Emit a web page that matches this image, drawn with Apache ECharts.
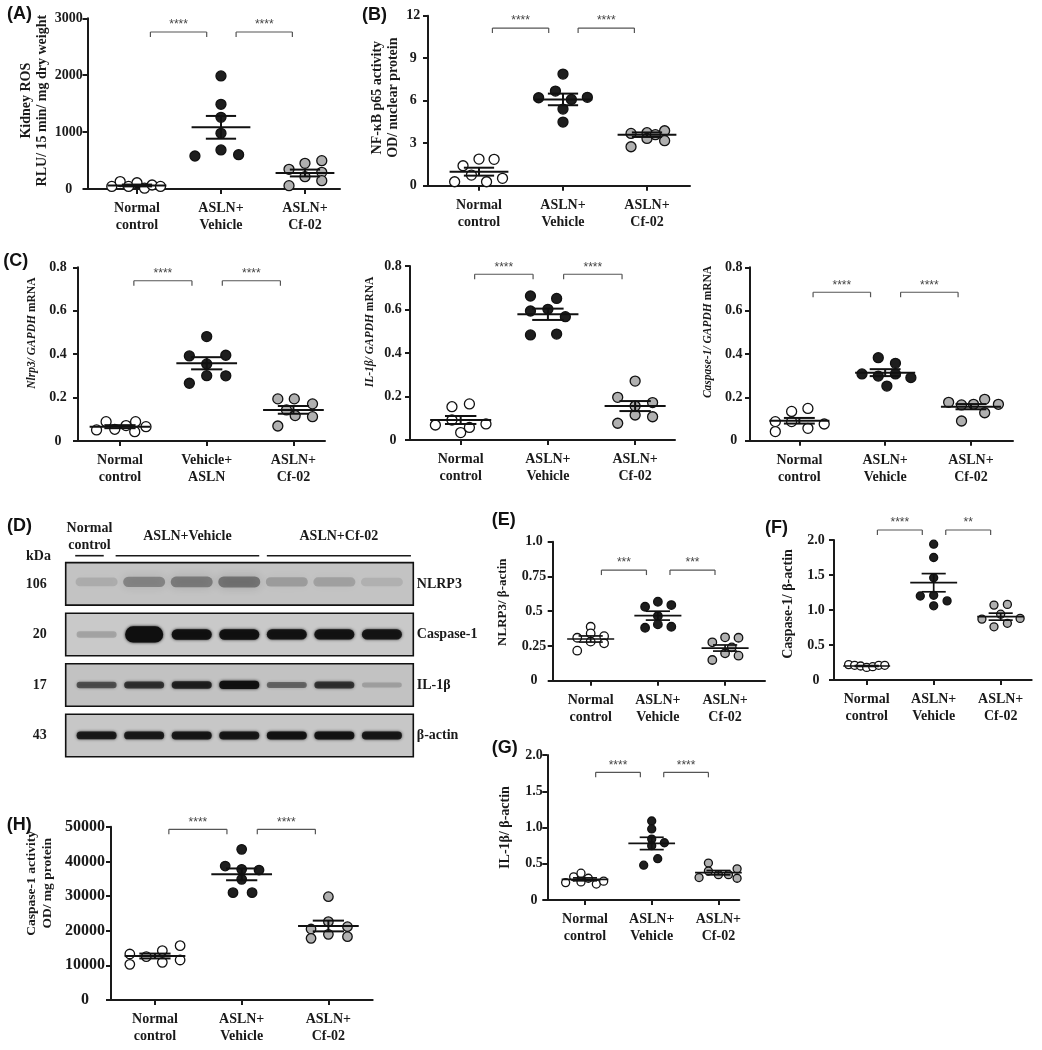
<!DOCTYPE html>
<html><head><meta charset="utf-8">
<script src="https://cdn.jsdelivr.net/npm/echarts@6/dist/echarts.min.js"></script>
<style>html,body{margin:0;padding:0;background:#fff}#c{width:1042px;height:1050px}</style>
</head><body><div id="c"></div>
<script>
// ---------------- categories / tick labels ----------------
const groupLabels   = ['Normal\ncontrol', 'ASLN+\nVehicle', 'ASLN+\nCf-02'];
const groupLabelsC1 = ['Normal\ncontrol', 'Vehicle+\nASLN', 'ASLN+\nCf-02'];

// ---------------- (A) Kidney ROS ----------------
const rosNormal  = [45, 130, 45, 110, 15, 70, 45];
const rosVehicle = [1987, 1489, 1260, 979, 580, 686, 604];
const rosCf02    = [59, 346, 451, 217, 498, 293, 147];
const rosJitter  = [[-0.3,-0.2,-0.1,0,0.09,0.18,0.28],[0,0,0,0,-0.31,0,0.21],[-0.19,-0.19,0,0,0.2,0.2,0.2]];
const rosMean = [62, 1084, 281];
const rosSem  = [16, 200, 60];

// ---------------- (B) NF-kB p65 ----------------
const nfkbNormal  = [0.28, 1.41, 0.75, 1.88, 0.28, 1.86, 0.52];
const nfkbVehicle = [7.88, 6.21, 6.68, 6.09, 6.24, 5.41, 4.49];
const nfkbCf02    = [3.69, 3.74, 2.75, 3.34, 3.88, 3.18, 3.6];
const nfkbJitter  = [[-0.29,-0.19,-0.09,0,0.09,0.18,0.28],[0,-0.29,-0.09,0.1,0.29,0,0],[-0.19,0,-0.19,0,0.21,0.21,0.1]];
const nfkbMean = [0.99, 6.09, 3.6];
const nfkbSem  = [0.28, 0.41, 0.16];

// ---------------- (C) Nlrp3 mRNA ----------------
const nlrp3mNormal  = [0.051, 0.089, 0.054, 0.071, 0.043, 0.089, 0.066];
const nlrp3mVehicle = [0.481, 0.392, 0.395, 0.355, 0.266, 0.301, 0.3];
const nlrp3mCf02    = [0.194, 0.194, 0.171, 0.069, 0.117, 0.112, 0.143];
const nlrp3mJitter  = [[-0.27,-0.16,-0.06,0.07,0.17,0.18,0.3],[0,-0.2,0.22,0,-0.2,0,0.22],[-0.18,0.01,0.22,-0.18,0.02,0.22,-0.08]];
const nlrp3mMean = [0.066, 0.358, 0.143];
const nlrp3mSem  = [0.007, 0.028, 0.018];

// ---------------- (C) IL-1b mRNA ----------------
const il1bmNormal  = [0.069, 0.153, 0.092, 0.034, 0.166, 0.058, 0.074];
const il1bmVehicle = [0.662, 0.651, 0.593, 0.601, 0.567, 0.483, 0.487];
const il1bmCf02    = [0.271, 0.196, 0.077, 0.115, 0.172, 0.107, 0.156];
const il1bmJitter  = [[-0.29,-0.1,-0.1,0,0.1,0.1,0.29],[-0.2,0.1,-0.2,0,0.2,-0.2,0.1],[0,-0.2,-0.2,0,0.2,0.2,0]];
const il1bmMean = [0.092, 0.578, 0.156];
const il1bmSem  = [0.018, 0.026, 0.023];

// ---------------- (C) Caspase-1 mRNA ----------------
const casp1mNormal  = [0.088, 0.042, 0.135, 0.088, 0.149, 0.057, 0.077];
const casp1mVehicle = [0.383, 0.357, 0.308, 0.298, 0.308, 0.291, 0.252];
const casp1mCf02    = [0.177, 0.165, 0.168, 0.191, 0.168, 0.091, 0.129];
const casp1mJitter  = [[-0.28,-0.28,-0.09,-0.09,0.1,0.1,0.29],[-0.08,0.12,-0.27,-0.08,0.12,0.3,0.02],[-0.26,-0.11,0.03,0.16,0.32,-0.11,0.16]];
const casp1mMean = [0.092, 0.314, 0.157];
const casp1mSem  = [0.013, 0.016, 0.012];

// ---------------- (E) NLRP3 / b-actin ----------------
const nlrp3pNormal  = [0.388, 0.309, 0.34, 0.32, 0.216, 0.281, 0.269];
const nlrp3pVehicle = [0.532, 0.568, 0.544, 0.465, 0.381, 0.405, 0.388];
const nlrp3pCf02    = [0.276, 0.312, 0.149, 0.197, 0.309, 0.18, 0.24];
const nlrp3pJitter  = [[0,-0.2,0,0.2,-0.2,0,0.2],[-0.19,0,0.2,0,-0.19,0,0.2],[-0.19,0,-0.19,0,0.2,0.2,0.1]];
const nlrp3pMean = [0.3, 0.468, 0.235];
const nlrp3pSem  = [0.022, 0.032, 0.022];

// ---------------- (F) Caspase-1 / b-actin ----------------
const casp1pNormal  = [0.22, 0.21, 0.2, 0.18, 0.19, 0.21, 0.21];
const casp1pVehicle = [1.94, 1.75, 1.46, 1.2, 1.21, 1.13, 1.06];
const casp1pCf02    = [1.07, 1.08, 0.87, 0.94, 0.88, 0.76, 0.81];
const casp1pJitter  = [[-0.27,-0.18,-0.09,0,0.09,0.18,0.27],[0,0,0,-0.2,0,0.2,0],[-0.1,0.1,-0.28,0,0.29,-0.1,0.1]];
const casp1pMean = [0.2, 1.39, 0.905];
const casp1pSem  = [0.006, 0.13, 0.05];

// ---------------- (G) IL-1b / b-actin ----------------
const il1bpNormal  = [0.24, 0.32, 0.37, 0.25, 0.3, 0.22, 0.26];
const il1bpVehicle = [1.09, 0.98, 0.84, 0.75, 0.79, 0.48, 0.57];
const il1bpCf02    = [0.31, 0.51, 0.4, 0.35, 0.35, 0.43, 0.3];
const il1bpJitter  = [[-0.29,-0.17,-0.06,-0.06,0.05,0.17,0.28],[0,0,0,0,0.19,-0.12,0.09],[-0.29,-0.15,-0.15,0,0.15,0.28,0.28]];
const il1bpMean = [0.285, 0.78, 0.377];
const il1bpSem  = [0.02, 0.085, 0.03];

// ---------------- (H) Caspase-1 activity ----------------
const caspActNormal  = [13270, 10290, 12500, 14230, 10870, 15670, 11540];
const caspActVehicle = [43460, 38650, 37690, 37500, 34810, 30960, 30960];
const caspActCf02    = [29800, 22600, 20480, 21150, 17790, 18940, 18270];
const caspActJitter  = [[-0.29,-0.29,-0.1,0.085,0.085,0.29,0.29],[0,-0.19,0,0.2,0,-0.1,0.12],[0,0,-0.2,0.22,-0.2,0,0.22]];
const caspActMean = [12690, 36250, 21350];
const caspActSem  = [700, 1700, 1550];

// ---------------- (D) western blot ----------------
const blotTargets = ['NLRP3', 'Caspase-1', 'IL-1β', 'β-actin'];
const kdaLabels   = ['106', '20', '17', '43'];
const laneGroups  = ['Normal\ncontrol', 'ASLN+Vehicle', 'ASLN+Cf-02'];
const nlrp3Band = [0.12, 0.32, 0.36, 0.4, 0.2, 0.18, 0.1];
const casp1Band = [0.18, 1.0, 0.95, 0.95, 0.92, 0.92, 0.9];
const il1bBand  = [0.55, 0.7, 0.8, 0.95, 0.45, 0.7, 0.18];
const actinBand = [0.85, 0.85, 0.88, 0.88, 0.92, 0.92, 0.88];

// ================= rendering =================
const INK = '#1a1a1a';
const SERIF = '"Liberation Serif", "DejaVu Serif", serif';
const SANS = '"Liberation Sans", Arial, sans-serif';
const FILLS = ['#ffffff', '#1e1e1e', '#b0b0b0'];

const fmtInt = v => String(Math.round(v));
const fmtDec = v => v === 0 ? '0' : String(+v.toFixed(2));
const fmtOne = v => v === 0 ? '0' : (Math.abs(v - Math.round(v)) < 1e-9 ? v.toFixed(1) : String(+v.toFixed(2)));

const panels = [
  {letter:'(A)', lp:[7,16], g:[87.5,18.3,252.5,170.7], x:[-0.589,2.417], ymax:3000, yint:1000, fmt:fmtInt, lm:18.8, tf:14,
   name:['Kidney ROS','RLU/ 15 min/ mg dry weight'], shift:3, ng:36, ns:14, ss:10, br:2759, stars:['****','****'], cats:groupLabels,
   vals:[rosNormal,rosVehicle,rosCf02], jit:rosJitter, mean:rosMean, sem:rosSem},
  {letter:'(B)', lp:[362,16.7], g:[428,15.7,262,170], x:[-0.607,2.512], ymax:12, yint:3, fmt:fmtInt, lm:14.7, tf:14,
   name:['NF-κB p65 activity','OD/ nuclear protein'], shift:3, ng:27, ns:14, ss:10, br:11.13, stars:['****','****'], cats:groupLabels,
   vals:[nfkbNormal,nfkbVehicle,nfkbCf02], jit:nfkbJitter, mean:nfkbMean, sem:nfkbSem},
  {letter:'(C)', lp:[3.3,263.3], g:[78,267.3,247,173.7], x:[-0.484,2.364], ymax:0.8, yint:0.2, fmt:fmtDec, lm:20, tf:14,
   name:['{i|Nlrp3/ GAPDH} mRNA'], shift:21, ng:38, ns:11.5, ss:10, br:0.738, stars:['****','****'], cats:groupLabelsC1,
   vals:[nlrp3mNormal,nlrp3mVehicle,nlrp3mCf02], jit:nlrp3mJitter, mean:nlrp3mMean, sem:nlrp3mSem},
  {letter:'', g:[410,266,265,174], x:[-0.581,2.457], ymax:0.8, yint:0.2, fmt:fmtDec, lm:17, tf:14,
   name:['{i|IL-1β/ GAPDH} mRNA'], shift:21, ng:32, ns:11.5, ss:10, br:0.762, stars:['****','****'], cats:groupLabels,
   vals:[il1bmNormal,il1bmVehicle,il1bmCf02], jit:il1bmJitter, mean:il1bmMean, sem:il1bmSem},
  {letter:'', g:[750,267.3,263,173.4], x:[-0.575,2.49], ymax:0.8, yint:0.2, fmt:fmtDec, lm:16.3, tf:14,
   name:['{i|Caspase-1/ GAPDH} mRNA'], shift:22, ng:34, ns:11.5, ss:10, br:0.685, stars:['****','****'], cats:groupLabels,
   vals:[casp1mNormal,casp1mVehicle,casp1mCf02], jit:casp1mJitter, mean:casp1mMean, sem:casp1mSem},
  {letter:'(E)', lp:[491.7,521.7], g:[552.7,541.7,212.3,139], x:[-0.565,2.594], ymax:1, yint:0.25, fmt:fmtOne, lm:18.7, tf:14,
   name:['NLRP3/ β-actin'], shift:9, ng:41.7, ns:13, ss:8.5, br:0.796, stars:['***','***'], cats:groupLabels,
   vals:[nlrp3pNormal,nlrp3pVehicle,nlrp3pCf02], jit:nlrp3pJitter, mean:nlrp3pMean, sem:nlrp3pSem},
  {letter:'(F)', lp:[765,530], g:[834,540,197.7,140], x:[-0.488,2.463], ymax:2, yint:0.5, fmt:fmtOne, lm:18, tf:14,
   name:['Caspase-1/ β-actin'], shift:6, ng:38, ns:14, ss:8, br:2.143, stars:['****','**'], cats:groupLabels,
   vals:[casp1pNormal,casp1pVehicle,casp1pCf02], jit:casp1pJitter, mean:casp1pMean, sem:casp1pSem},
  {letter:'(G)', lp:[491.7,750], g:[547.3,755,192,145], x:[-0.565,2.313], ymax:2, yint:0.5, fmt:fmtOne, lm:13.3, tf:14,
   name:['IL-1β/ β-actin'], shift:0, ng:34, ns:14, ss:8, br:1.761, stars:['****','****'], cats:groupLabels,
   vals:[il1bpNormal,il1bpVehicle,il1bpCf02], jit:il1bpJitter, mean:il1bpMean, sem:il1bpSem},
  {letter:'(H)', lp:[6.7,826.7], g:[111,826.7,261.7,173.3], x:[-0.507,2.511], ymax:50000, yint:10000, fmt:fmtInt, lm:26, tf:16,
   name:['Caspase-1 activity','OD/ mg protein'], shift:30, ng:55, ns:13.5, ss:9.5, br:49250, stars:['****','****'], cats:groupLabels,
   vals:[caspActNormal,caspActVehicle,caspActCf02], jit:caspActJitter, mean:caspActMean, sem:caspActSem}
];

const option = {animation:false, backgroundColor:'#fff', grid:[], xAxis:[], yAxis:[], series:[], graphic:[]};

const labelFont = {fontFamily:SERIF, fontWeight:'bold', color:INK};

panels.forEach((p, k) => {
  option.grid.push({left:p.g[0], top:p.g[1], width:p.g[2], height:p.g[3]});
  option.xAxis.push({
    type:'value', gridIndex:k, min:p.x[0], max:p.x[1],
    axisLine:{show:true, onZero:false, lineStyle:{color:INK, width:2}},
    splitLine:{show:false},
    axisTick:{show:true, customValues:[0,1,2], length:5, lineStyle:{color:INK, width:2}},
    axisLabel:Object.assign({customValues:[0,1,2], formatter:v => p.cats[Math.round(v)], margin:11, fontSize:14, lineHeight:17}, labelFont)
  });
  const nameText = p.name.map(l => (p.shift > 0 ? '{p| }' : '') + l).join('\n');
  option.yAxis.push({
    type:'value', gridIndex:k, min:0, max:p.ymax, interval:p.yint,
    axisLine:{show:true, onZero:false, lineStyle:{color:INK, width:2}},
    splitLine:{show:false},
    axisTick:{show:true, length:5, lineStyle:{color:INK, width:2}},
    axisLabel:Object.assign({formatter:p.fmt, margin:p.lm, align:'center', fontSize:p.tf}, labelFont),
    name:nameText, nameLocation:'middle', nameGap:p.ng,
    nameTextStyle:{fontFamily:SERIF, fontWeight:'bold', fontSize:p.ns, color:INK, lineHeight:16,
      rich:{
        i:{fontFamily:SERIF, fontWeight:'bold', fontStyle:'italic', fontSize:p.ns, color:INK, lineHeight:16},
        p:{width:2 * p.shift, fontSize:p.ns, lineHeight:16}
      }}
  });
  p.vals.forEach((vals, g) => {
    option.series.push({
      type:'scatter', xAxisIndex:k, yAxisIndex:k, symbol:'circle', symbolSize:p.ss, z:3, silent:true,
      itemStyle:{color:FILLS[g], borderColor:'#111', borderWidth:1.3, opacity:1},
      data:vals.map((v, i) => [g + p.jit[g][i], v])
    });
  });
  const lw = k >= 5 && k <= 7 ? 1.7 : 2;
  option.series.push({
    type:'custom', xAxisIndex:k, yAxisIndex:k, z:5, silent:true,
    data:p.mean.map((m, g) => [g, m, p.sem[g]]),
    renderItem:(params, api) => {
      const g = api.value(0), m = api.value(1), s = api.value(2);
      const a = api.coord([g - 0.35, m]), b = api.coord([g + 0.35, m]);
      const t1 = api.coord([g - 0.18, m + s]), t2 = api.coord([g + 0.18, m + s]);
      const u1 = api.coord([g - 0.18, m - s]), u2 = api.coord([g + 0.18, m - s]);
      const c1 = api.coord([g, m + s]), c2 = api.coord([g, m - s]);
      const st = {stroke:'#111', lineWidth:lw};
      return {type:'group', children:[
        {type:'line', shape:{x1:a[0], y1:a[1], x2:b[0], y2:b[1]}, style:st},
        {type:'line', shape:{x1:t1[0], y1:t1[1], x2:t2[0], y2:t2[1]}, style:st},
        {type:'line', shape:{x1:u1[0], y1:u1[1], x2:u2[0], y2:u2[1]}, style:st},
        {type:'line', shape:{x1:c1[0], y1:c1[1], x2:c2[0], y2:c2[1]}, style:st}
      ]};
    }
  });
  option.series.push({
    type:'custom', xAxisIndex:k, yAxisIndex:k, z:4, silent:true, clip:false,
    data:[[0.16, 0.83, p.br], [1.18, 1.85, p.br]],
    renderItem:(params, api) => {
      const a = api.coord([api.value(0), api.value(2)]), b = api.coord([api.value(1), api.value(2)]);
      const st = {stroke:'#555', lineWidth:1.2};
      return {type:'group', children:[
        {type:'line', shape:{x1:a[0], y1:a[1], x2:b[0], y2:b[1]}, style:st},
        {type:'line', shape:{x1:a[0], y1:a[1], x2:a[0], y2:a[1] + 5}, style:st},
        {type:'line', shape:{x1:b[0], y1:b[1], x2:b[0], y2:b[1] + 5}, style:st},
        {type:'text', style:{text:p.stars[params.dataIndex], x:(a[0] + b[0]) / 2, y:a[1] - 1,
          textAlign:'center', align:'center', textVerticalAlign:'bottom', verticalAlign:'bottom',
          fontFamily:SANS, fontSize:12, fill:'#444'}}
      ]};
    }
  });
  if (p.letter) {
    option.graphic.push({type:'text', left:p.lp[0], top:p.lp[1] - 11,
      style:{text:p.letter, fontFamily:SANS, fontWeight:'bold', fontSize:18, fill:'#111'}});
  }
});

// ---------- (D) blot grid ----------
const bk = panels.length; // grid index 9
option.grid.push({left:65.7, top:562.7, width:347.6, height:194});
option.xAxis.push({type:'value', gridIndex:bk, min:-0.65, max:6.66, show:false});
option.yAxis.push({type:'value', gridIndex:bk, min:-0.42, max:3.42, inverse:true,
  axisLine:{show:false}, splitLine:{show:false},
  axisTick:{show:true, customValues:[0,1,2,3], length:13, lineStyle:{color:INK, width:2}},
  axisLabel:Object.assign({customValues:[0,1,2,3], formatter:v => kdaLabels[Math.round(v)], margin:19, fontSize:14}, labelFont)});
option.yAxis.push({type:'value', gridIndex:bk, position:'right', min:-0.42, max:3.42, inverse:true,
  axisLine:{show:false}, splitLine:{show:false}, axisTick:{show:false},
  axisLabel:Object.assign({customValues:[0,1,2,3], formatter:v => blotTargets[Math.round(v)], margin:3.5, fontSize:14, align:'left'}, labelFont)});

const boxFill = ['#c3c3c3', '#c9c9c9', '#c2c2c2', '#c7c7c7'];
option.series.push({
  type:'custom', xAxisIndex:bk, yAxisIndex:bk + 1, z:1, silent:true,
  data:blotTargets.map((t, r) => [0, r]),
  renderItem:(params, api) => {
    const cs = params.coordSys;
    const y = api.coord([0, api.value(1)])[1];
    return {type:'rect', shape:{x:cs.x, y:y - 21.25, width:cs.width, height:42.5},
      style:{fill:boxFill[params.dataIndex], stroke:'#111', lineWidth:1.6}};
  }
});
const bandRows = [nlrp3Band, casp1Band, il1bBand, actinBand];
const bandBaseH = [13, 9, 7, 7];
const bandData = [];
bandRows.forEach((row, r) => row.forEach((v, lane) => bandData.push([lane, r, v])));
option.series.push({
  type:'custom', xAxisIndex:bk, yAxisIndex:bk + 1, z:2, silent:true,
  data:bandData,
  renderItem:(params, api) => {
    const lane = api.value(0), r = api.value(1), v = api.value(2);
    const c = api.coord([lane, r]);
    const big = (r === 1 && v >= 1) ? 1.5 : 1;
    const h = bandBaseH[r] * (0.6 + 0.6 * v) * big;
    const w = r === 1 && v >= 1 ? 38 : (r === 0 ? 42 : 40);
    const col = 'rgba(15,15,15,' + Math.min(1, v).toFixed(2) + ')';
    return {type:'rect', shape:{x:c[0] - w / 2, y:c[1] - 2 * (r === 0) - h / 2, width:w, height:h, r:h / 2},
      style:{fill:col, shadowBlur:r === 0 ? 10 : 3, shadowColor:col}};
  }
});
option.series.push({
  type:'custom', xAxisIndex:bk, yAxisIndex:bk + 1, z:2, silent:true, clip:false,
  data:[[-0.45, 0.15], [0.4, 3.42], [3.58, 6.61]],
  renderItem:(params, api) => {
    const cs = params.coordSys;
    const a = api.coord([api.value(0), 0])[0], b = api.coord([api.value(1), 0])[0];
    const y = cs.y - 7;
    return {type:'group', children:[
      {type:'line', shape:{x1:a, y1:y, x2:b, y2:y}, style:{stroke:INK, lineWidth:1.6}},
      {type:'text', style:{text:laneGroups[params.dataIndex], x:(a + b) / 2, y:cs.y - 26.2,
        textAlign:'center', align:'center', textVerticalAlign:'middle', verticalAlign:'middle',
        fontFamily:SERIF, fontWeight:'bold', fontSize:14, lineHeight:17, fill:INK}}
    ]};
  }
});
option.graphic.push({type:'text', left:7, top:517, style:{text:'(D)', fontFamily:SANS, fontWeight:'bold', fontSize:18, fill:'#111'}});
option.graphic.push({type:'text', left:26, top:549, style:{text:'kDa', fontFamily:SERIF, fontWeight:'bold', fontSize:14, fill:INK}});

const chart = echarts.init(document.getElementById('c'), null, {renderer:'canvas'});
chart.setOption(option);
</script>
</body></html>
